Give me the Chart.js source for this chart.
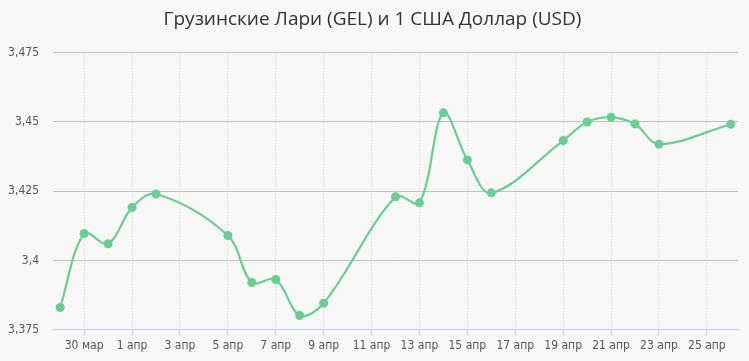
<!DOCTYPE html>
<html>
<head>
<meta charset="utf-8">
<script src="https://cdn.jsdelivr.net/npm/chart.js@4"></script>
<style>
  html, body { margin: 0; padding: 0; background: #f7f7f7; }
  #wrap { width: 749px; height: 361px; }
</style>
</head>
<body>
<div id="wrap"><canvas id="chart"></canvas></div>
<script>
const days = [
  "29 мар", "30 мар", "31 мар", "1 апр", "2 апр", "3 апр", "4 апр", "5 апр",
  "6 апр", "7 апр", "8 апр", "9 апр", "10 апр", "11 апр", "12 апр", "13 апр",
  "14 апр", "15 апр", "16 апр", "17 апр", "18 апр", "19 апр", "20 апр", "21 апр",
  "22 апр", "23 апр", "24 апр", "25 апр", "26 апр",
];
// null = no quote that day (weekends)
const rates = [
  3.383, 3.4097, 3.406, 3.4191, 3.424, null, null, 3.409,
  3.392, 3.3931, 3.3801, 3.3845, null, null, 3.423, 3.4208,
  3.4533, 3.4363, 3.4244, null, null, 3.4433, 3.45, 3.4517,
  3.4493, 3.442, null, null, 3.4492,
];
const yTicks = [3.375, 3.4, 3.425, 3.45, 3.475];

const font = "'DejaVu Sans Condensed', 'Liberation Sans Narrow', 'Open Sans', sans-serif";

const points = [];
rates.forEach((v, i) => {
  if (v !== null) points.push({ x: i, y: v });
});

const ctx = document.getElementById("chart").getContext("2d");
const chart = new Chart(ctx, {
  type: "line",
  data: {
    datasets: [
      {
        label: "GEL / USD",
        data: points,
        borderColor: "rgb(108, 205, 148)",
        backgroundColor: "rgb(108, 205, 148)",
        borderWidth: 2.2,
        pointRadius: 4.5,
        pointBorderWidth: 0,
        tension: 0.35,
        fill: false,
      },
    ],
  },
  options: {
    responsive: true,
    maintainAspectRatio: false,
    animation: false,
    layout: { padding: { left: 7, right: 11, top: 4, bottom: 5 } },
    plugins: {
      legend: { display: false },
      tooltip: { enabled: false },
      title: {
        display: true,
        text: "Грузинские Лари (GEL) и 1 США Доллар (USD)",
        color: "#333",
        font: { family: "'Open Sans', sans-serif", size: 19, weight: "normal" },
        padding: { top: 4, bottom: 22 },
      },
    },
    scales: {
      x: {
        type: "linear",
        min: -0.3,
        max: 28.3,
        afterBuildTicks: (scale) => {
          const t = [];
          for (let i = 1; i < days.length; i += 2) t.push({ value: i });
          scale.ticks = t;
        },
        ticks: {
          callback: (v) => days[v],
          color: "#555",
          font: { family: font, size: 12 },
          maxRotation: 0,
          autoSkip: false,
          padding: 3,
        },
        grid: {
          color: "#d0d0d0",
          lineWidth: 1,
          tickColor: "#c0d0e0",
          tickLength: 6,
        },
        border: { display: true, color: "#c0d0e0", dash: [1, 2] },
      },
      y: {
        min: 3.375,
        max: 3.475,
        afterBuildTicks: (scale) => {
          scale.ticks = yTicks.map((v) => ({ value: v }));
        },
        afterFit: (scale) => {
          scale.width = 46;
        },
        ticks: {
          callback: (v) => String(Number(v.toFixed(3))).replace(".", ","),
          color: "#555",
          font: { family: font, size: 12 },
          padding: 14,
        },
        grid: { color: "#c0c0c0", drawTicks: false },
        border: { display: false },
      },
    },
  },
});
</script>
</body>
</html>
